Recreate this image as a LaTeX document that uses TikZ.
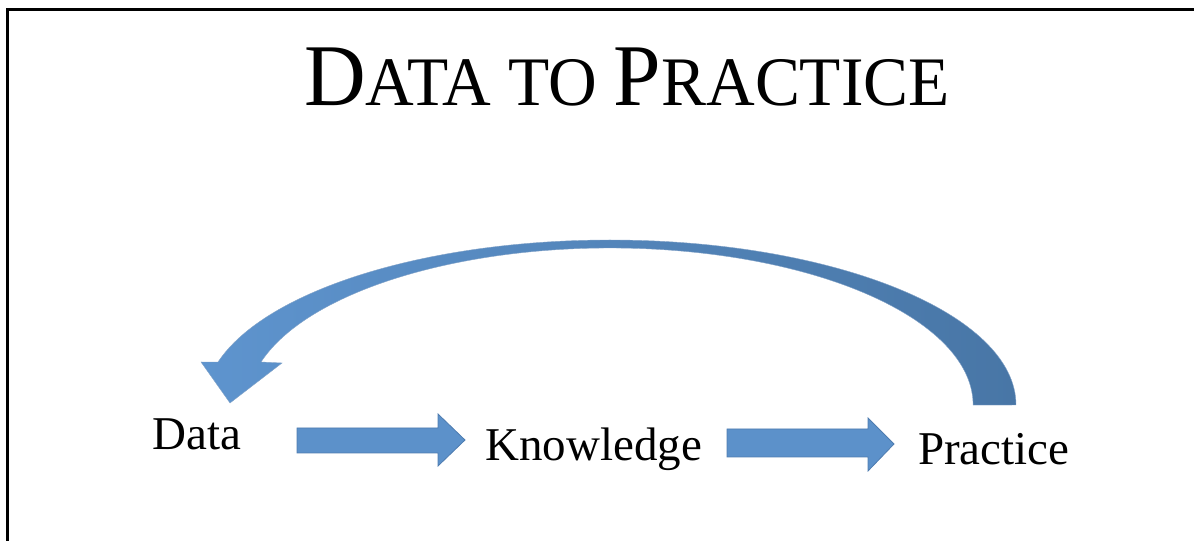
\documentclass[tikz,border=0pt]{standalone}
\usepackage{fontspec}
\setmainfont{Liberation Serif}
\definecolor{arrowfill}{RGB}{92,145,202}
\definecolor{arrowedge}{RGB}{78,124,176}
\definecolor{curvelight}{RGB}{94,148,206}
\definecolor{curvedark}{RGB}{72,118,166}
\tikzset{
  label/.style={anchor=base west, inner sep=0pt, font=\fontsize{47}{50}\selectfont},
  blockarrow/.style={fill=arrowfill, draw=arrowedge, line width=0.8pt, line join=miter},
  frame/.style={line width=3pt, black}
}
\begin{document}
\begin{tikzpicture}[x=1pt,y=1pt]
\useasboundingbox (0,0) rectangle (1194,541);
% frame (only top and left edges are visible)
\draw[frame] (1194,531) -- (7.5,531) -- (7.5,0);
% title
\node[anchor=base, inner sep=0pt] (title) at (627,435)
  {\scalebox{0.97}[1]{\fontsize{88}{90}\selectfont D\fontsize{69.5}{70}\selectfont ATA TO \fontsize{88}{90}\selectfont P\fontsize{69.5}{70}\selectfont RACTICE}};
% labels
\node[label] (data) at (152,92) {Data};
\node[label] (know) at (485,81) {Knowledge};
\node[label] (prac) at (918,76) {Practice};
% straight block arrows
\draw[blockarrow] (297,113) -- (438,113) -- (438,127) -- (465,101) -- (438,75) -- (438,88) -- (297,88) -- cycle;
\draw[blockarrow] (727,112) -- (868,112) -- (868,123) -- (894,97) -- (868,70) -- (868,84) -- (727,84) -- cycle;
% curved return arrow
\shade[left color=curvelight, right color=curvedark, draw=arrowedge!70, line width=0.4pt]
  (1016,136) arc[start angle=0, end angle=164.9, x radius=406, y radius=165]
  -- (201,179) -- (230,138) -- (282,178) -- (261,179)
  arc[start angle=164.1, end angle=0, x radius=363, y radius=157]
  -- cycle;
\end{tikzpicture}
\end{document}
